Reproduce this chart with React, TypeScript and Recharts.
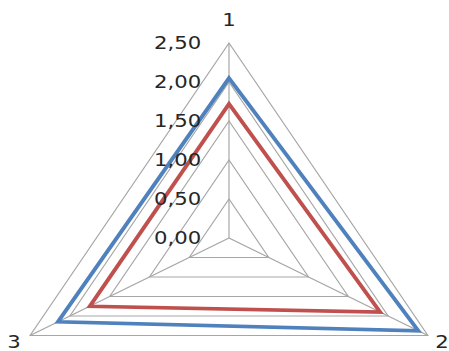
import React from 'react';
import {
  RadarChart,
  Radar,
  PolarGrid,
  PolarAngleAxis,
  PolarRadiusAxis,
} from 'recharts';

// values
const categories = ['1', '2', '3'];
const blueValues = [2.05, 2.38, 2.15];
const redValues = [1.72, 1.9, 1.75];
const radiusTicks = [0, 0.5, 1, 1.5, 2, 2.5];

const data = categories.map((cat, i) => ({
  cat,
  blue: blueValues[i],
  red: redValues[i],
}));

const CX = 229;
const CY = 238;
const R = 195;
const STRETCH = 1.178; // the source picture is wider than an even triangle
const FONT = '"DejaVu Sans", sans-serif';

const formatTick = (v: number) => v.toFixed(2).replace('.', ',');

const AngleTick = (props: any) => {
  const { x, y, payload } = props;
  // put the label along the spoke direction, a bit outside the outer ring
  const ux = x - CX;
  const uy = y - CY;
  const len = Math.sqrt(ux * ux + uy * uy) || 1;
  let tx = CX + (ux / len) * (R + 8);
  let ty = CY + (uy / len) * (R + 8);
  if (payload.index === 0) {
    ty -= 15;
  } else if (payload.index === 1) {
    tx += 5;
    ty += 2.5;
  } else {
    tx -= 6.7;
    ty += 2.5;
  }
  return (
    <text
      x={tx}
      y={ty}
      textAnchor="middle"
      dominantBaseline="central"
      fontFamily={FONT}
      fontSize={18}
      fill="#262626"
    >
      {payload.value}
    </text>
  );
};

const RadiusTick = (props: any) => {
  const { x, y, payload } = props;
  return (
    <text
      x={x - 23.5}
      y={y}
      textAnchor="end"
      dominantBaseline="central"
      fontFamily={FONT}
      fontSize={18}
      fill="#262626"
    >
      {formatTick(payload.value)}
    </text>
  );
};

const App = () => {
  return (
    <div
      style={{
        position: 'absolute',
        left: 0,
        top: 0,
        width: 449,
        height: 351,
        overflow: 'hidden',
        background: '#fff',
      }}
    >
      <div style={{ transform: `scaleX(${STRETCH})`, transformOrigin: `${CX}px 0px` }}>
        <RadarChart
          width={449}
          height={351}
          data={data}
          cx={CX}
          cy={CY}
          outerRadius={R}
          margin={{ top: 0, right: 0, bottom: 0, left: 0 }}
        >
          <PolarGrid gridType="polygon" stroke="#a6a6a6" strokeWidth={1} />
          <PolarAngleAxis dataKey="cat" tick={AngleTick} axisLine={false} tickLine={false} />
          <PolarRadiusAxis
            angle={90}
            type="number"
            domain={[0, 2.5]}
            allowDecimals
            allowDataOverflow
            tickCount={6}
            ticks={radiusTicks}
            tick={RadiusTick}
            axisLine={false}
            tickLine={false}
          />
          <Radar
            dataKey="blue"
            stroke="#4f81bd"
            strokeWidth={3.5}
            fill="none"
            fillOpacity={0}
            dot={false}
            isAnimationActive={false}
          />
          <Radar
            dataKey="red"
            stroke="#c0504d"
            strokeWidth={3.5}
            fill="none"
            fillOpacity={0}
            dot={false}
            isAnimationActive={false}
          />
        </RadarChart>
      </div>
    </div>
  );
};

export default App;
